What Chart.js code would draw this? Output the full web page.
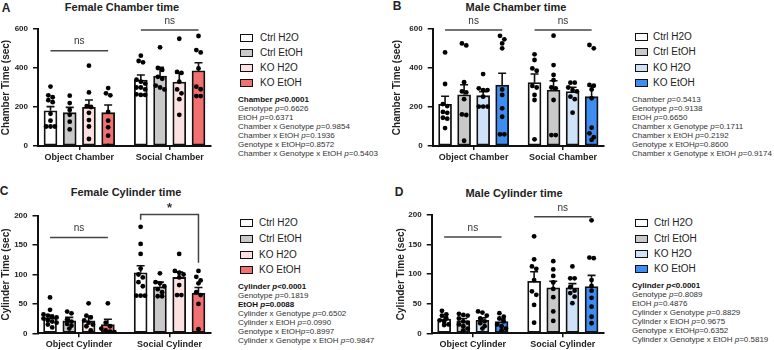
<!DOCTYPE html>
<html>
<head>
<meta charset="utf-8">
<script src="https://cdn.jsdelivr.net/npm/chart.js@4.4.1/dist/chart.umd.min.js"></script>
<style>
  body { margin: 0; background: #fff; }
  #page { position: relative; width: 774px; height: 350px; overflow: hidden; font-family: 'Liberation Sans', Arial, sans-serif; color: #222; }
  .abs { position: absolute; white-space: nowrap; }
  .letter { font-weight: bold; font-size: 12px; line-height: 14px; transform: translate(-50%, -50%); }
  .title { font-weight: bold; font-size: 11px; line-height: 13px; transform: translate(-50%, -50%); }
  .box { position: absolute; width: 13px; height: 8px; border: 1.8px solid #111; box-sizing: border-box; }
  .lab { position: absolute; font-size: 10px; line-height: 12px; white-space: nowrap; }
  .stats { position: absolute; font-size: 8px; line-height: 9px; color: #333; white-space: nowrap; }
  .stats b { color: #111; }
  canvas { position: absolute; }
</style>
</head>
<body>
<div id="page">
  <div class="abs letter" style="left:6px;top:8px">A</div>
  <div class="abs title" style="left:122px;top:7px">Female Chamber time</div>
  <div class="abs letter" style="left:397px;top:6px">B</div>
  <div class="abs title" style="left:516px;top:7px">Male Chamber time</div>
  <div class="abs letter" style="left:4px;top:191px">C</div>
  <div class="abs title" style="left:126px;top:192px">Female Cylinder time</div>
  <div class="abs letter" style="left:399px;top:192px">D</div>
  <div class="abs title" style="left:514px;top:193px">Male Cylinder time</div>

  <canvas id="chartA" width="215" height="170" style="left:0;top:0"></canvas>
  <canvas id="chartB" width="217" height="170" style="left:391px;top:0"></canvas>
  <canvas id="chartC" width="215" height="175" style="left:0;top:175px"></canvas>
  <canvas id="chartD" width="217" height="175" style="left:391px;top:175px"></canvas>
</div>

<script>
// ---- data ----
const seriesNames = ['Ctrl H2O', 'Ctrl EtOH', 'KO H2O', 'KO EtOH'];
const chamberGroups = ['Object Chamber', 'Social Chamber'];
const cylinderGroups = ['Object Cylinder', 'Social Cylinder'];
const chamberTicks = [0, 200, 400, 600];
const cylinderTicks = [0, 50, 100, 150, 200];

const femaleColors = ['#ffffff', '#c9c9c9', '#fde1e1', '#f27070'];
const maleColors = ['#ffffff', '#c9c9c9', '#cfe2f8', '#3d8ef0'];

// bar means / SEM per series: [object, social]
const femChamberMean = [[181, 338], [171, 359], [198, 328], [171, 386]];
const femChamberSem = [[21, 26], [27, 44], [38, 45], [39, 41]];
const maleChamberMean = [[214, 325], [263, 287], [258, 279], [313, 253]];
const maleChamberSem = [[41, 44], [51, 48], [21, 22], [60, 56]];
const femCylinderMean = [[26, 103], [21, 79], [21, 95], [15, 68]];
const femCylinderSem = [[5, 12], [6, 8], [8, 9], [9, 10]];
const maleCylinderMean = [[24, 88], [21, 77], [22, 77], [20, 79]];
const maleCylinderSem = [[4, 16], [4, 11], [4, 7], [4, 19]];

// individual animals, per series
const femChamberObjDots = [
  [305, 260, 250, 235, 225, 165, 130, 100, 100, 100],
  [258, 220, 185, 160, 125, 85],
  [412, 275, 205, 200, 170, 133, 100, 36],
  [297, 270, 260, 175, 130, 96, 53, 0]
];
const femChamberSocDots = [
  [463, 436, 429, 340, 330, 320, 300, 300, 290, 262, 262, 265],
  [506, 400, 390, 355, 345, 310, 300, 290],
  [550, 380, 375, 330, 290, 270, 240, 160],
  [564, 492, 480, 398, 304, 291, 256, 256]
];
const maleChamberObjDots = [
  [480, 318, 215, 205, 175, 170, 145, 140, 92],
  [526, 516, 327, 280, 275, 240, 162, 159, 27],
  [369, 296, 287, 287, 253, 202, 202, 202],
  [565, 547, 526, 501, 290, 262, 193, 150, 60, 60]
];
const maleChamberSocDots = [
  [470, 441, 398, 386, 308, 300, 262, 236, 34],
  [566, 415, 364, 338, 300, 296, 236, 56, 56],
  [325, 325, 300, 287, 280, 253, 240, 171],
  [518, 501, 313, 309, 290, 245, 94, 65, 45, 31]
];
const femCylinderObjDots = [
  [61, 40, 32, 30, 28, 27, 25, 22, 20, 18, 15, 10],
  [37, 34, 24, 20, 16, 13, 8],
  [51, 30, 27, 22, 18, 15, 12, 5],
  [51, 18, 12, 8, 5, 3, 2]
];
const femCylinderSocDots = [
  [181, 152, 135, 110, 100, 95, 87, 80, 64, 64, 64],
  [102, 87, 85, 80, 75, 70, 63, 63],
  [135, 106, 103, 100, 95, 82, 65, 65],
  [106, 96, 90, 85, 70, 65, 50, 7]
];
const maleCylinderObjDots = [
  [38, 32, 30, 25, 22, 20, 15, 14],
  [33, 31, 30, 25, 20, 18, 15, 12, 8, 5],
  [37, 35, 30, 25, 20, 17, 12, 8],
  [34, 28, 25, 20, 15, 12, 8, 5]
];
const maleCylinderSocDots = [
  [164, 125, 113, 109, 90, 71, 65, 48, 18],
  [122, 108, 97, 86, 75, 61, 37, 21],
  [113, 93, 93, 78, 72, 68, 62, 51],
  [191, 128, 127, 90, 80, 72, 60, 45, 28, 17]
];

// significance bars: height per group, label, optional bracket legs [left, right]
const femChamberSigY = [489, 595];
const maleChamberSigY = [595, 595];
const femCylinderSigY = [163, 202];
const maleCylinderSigY = [163, 197];
const femCylinderSigText = ['ns', '*'];
const femCylinderSigLegs = [null, [193, 120]];

// ANOVA results
const chamberTerms = ['Chamber ', 'Genotype ', 'EtOH ', 'Chamber x Genotype ', 'Chamber x EtOH ', 'Genotype x EtOH', 'Chamber x Genotype x EtOH '];
const cylinderTerms = ['Cylinder ', 'Genotype ', 'EtOH ', 'Cylinder x Genotype ', 'Cylinder x EtOH ', 'Genotype x EtOH', 'Cylinder x Genotype x EtOH '];
const femChamberP = ['<0.0001', '=0.6626', '=0.6371', '=0.9854', '=0.1936', '=0.8572', '=0.5403'];
const maleChamberP = ['=0.5413', '=0.9138', '=0.6650', '=0.1711', '=0.2192', '=0.8600', '=0.9174'];
const femCylinderP = ['<0.0001', '=0.1819', '=0.0088', '=0.6502', '=0.0990', '=0.8997', '=0.9847'];
const maleCylinderP = ['<0.0001', '=0.8089', '=0.4876', '=0.8829', '=0.9675', '=0.6352', '=0.5819'];
const femChamberBold = [true, false, false, false, false, false, false];
const maleChamberBold = [false, false, false, false, false, false, false];
const femCylinderBold = [true, false, true, false, false, false, false];
const maleCylinderBold = [true, false, false, false, false, false, false];

Chart.defaults.font.family = "'Liberation Sans', Arial, sans-serif";

const groupCenters = [2.15, 6.85];
const barOffsets = [-1.5, -0.5, 0.5, 1.5];

// error bars + significance lines
function extras(p) {
  return {
    id: 'extras',
    beforeDatasetDraw(chart, args) {
      if (chart.data.datasets[args.index].type !== 'scatter') return;
      const ctx = chart.ctx, ys = chart.scales.y;
      ctx.save();
      ctx.strokeStyle = '#111';
      ctx.lineWidth = 1.6;
      chart.data.datasets.forEach((ds, i) => {
        if (ds.type !== 'bar') return;
        chart.getDatasetMeta(i).data.forEach((bar, j) => {
          const top = ys.getPixelForValue(ds.data[j].y + ds.sem[j]);
          ctx.beginPath();
          ctx.moveTo(bar.x, bar.y);
          ctx.lineTo(bar.x, top);
          ctx.moveTo(bar.x - 4, top);
          ctx.lineTo(bar.x + 4, top);
          ctx.stroke();
        });
      });
      ctx.restore();
    },
    afterDatasetsDraw(chart) {
      const ctx = chart.ctx, xs = chart.scales.x, ys = chart.scales.y;
      ctx.save();
      p.sigY.forEach((v, g) => {
        const x0 = xs.getPixelForValue(groupCenters[g] + barOffsets[0]);
        const x1 = xs.getPixelForValue(groupCenters[g] + barOffsets[3]);
        const py = ys.getPixelForValue(v);
        const legs = p.sigLegs ? p.sigLegs[g] : null;
        ctx.strokeStyle = '#444';
        ctx.lineWidth = 1.5;
        ctx.beginPath();
        if (legs) {
          ctx.moveTo(x0, ys.getPixelForValue(legs[0]));
          ctx.lineTo(x0, py);
          ctx.lineTo(x1, py);
          ctx.lineTo(x1, ys.getPixelForValue(legs[1]));
        } else {
          ctx.moveTo(x0, py);
          ctx.lineTo(x1, py);
        }
        ctx.stroke();
        const txt = p.sigText ? p.sigText[g] : 'ns';
        ctx.fillStyle = '#333';
        ctx.textAlign = 'center';
        ctx.textBaseline = 'middle';
        ctx.font = txt === '*' ? "bold 13px 'Liberation Sans', Arial" : "10px 'Liberation Sans', Arial";
        ctx.fillText(txt, (x0 + x1) / 2, py - (txt === '*' ? 6 : 9));
      });
      ctx.restore();
    }
  };
}

// place the dots of each bar in little rows so they don't sit on top of each other
function spreadDots(chart, groups) {
  const xs = chart.scales.x, ys = chart.scales.y;
  const step = 4.4 / (xs.getPixelForValue(1) - xs.getPixelForValue(0));
  const pts = [];
  groups.forEach(gr => {
    const sorted = gr.values.slice().sort((a, b) => b - a);
    let row = [];
    const flush = () => {
      row.forEach((v, k) => pts.push({ x: gr.x + (k - (row.length - 1) / 2) * step, y: v }));
      row = [];
    };
    sorted.forEach(v => {
      if (row.length && (row.length === 4 || ys.getPixelForValue(v) - ys.getPixelForValue(row[0]) > 4.4)) flush();
      row.push(v);
    });
    flush();
  });
  chart.data.datasets[4].data = pts;
  chart.update('none');
}

function buildPanel(p) {
  const barSets = seriesNames.map((name, s) => ({
    type: 'bar',
    label: name,
    order: 1,
    data: groupCenters.map((c, g) => ({ x: c + barOffsets[s], y: p.mean[s][g] })),
    sem: p.sem[s],
    backgroundColor: p.colors[s],
    borderColor: '#111',
    borderWidth: 1.8,
    borderSkipped: false,
    barThickness: 13,
    grouped: false
  }));
  const dotSet = {
    type: 'scatter', label: 'animals', order: 0, data: [],
    pointRadius: 2.4, pointBackgroundColor: '#000', pointBorderWidth: 0
  };

  const chart = new Chart(document.getElementById(p.id), {
    type: 'bar',
    data: { datasets: [...barSets, dotSet] },
    options: {
      responsive: false,
      animation: false,
      layout: { padding: { left: 0, top: p.area.t, right: p.width - p.area.r, bottom: 0 } },
      plugins: { legend: { display: false }, tooltip: { enabled: false } },
      scales: {
        x: {
          type: 'linear', min: 0, max: 9, offset: false,
          afterFit: s => { s.height = p.height - p.area.b; },
          afterBuildTicks: s => { s.ticks = groupCenters.map(v => ({ value: v })); },
          ticks: {
            autoSkip: false, maxRotation: 0, padding: 2, color: '#222',
            font: { size: 9, weight: 'bold' },
            callback: (v, i) => p.groups[i]
          },
          grid: { drawOnChartArea: false, tickLength: 4, color: '#111', lineWidth: 1.5, offset: false },
          border: { color: '#111', width: 2 }
        },
        y: {
          min: 0, max: p.ticks[p.ticks.length - 1],
          afterFit: s => { s.width = p.area.l; },
          afterBuildTicks: s => { s.ticks = p.ticks.map(v => ({ value: v })); },
          ticks: { padding: 5, color: '#222', font: { size: 8, weight: 'bold' } },
          grid: { drawOnChartArea: false, tickLength: 5, color: '#111', lineWidth: 1.5 },
          border: { color: '#111', width: 2 },
          title: {
            display: true, text: p.axisTitle, color: '#222',
            font: { size: 10, weight: 'bold' },
            padding: { top: p.titlePad, bottom: 0 }
          }
        }
      }
    },
    plugins: [extras(p)]
  });

  const groups = [];
  seriesNames.forEach((n, s) => {
    groups.push({ x: groupCenters[0] + barOffsets[s], values: p.objDots[s] });
    groups.push({ x: groupCenters[1] + barOffsets[s], values: p.socDots[s] });
  });
  spreadDots(chart, groups);

  // legend + stats text
  const page = document.getElementById('page');
  seriesNames.forEach((name, s) => {
    const box = document.createElement('div');
    box.className = 'box';
    box.style.left = p.legend.x + 'px';
    box.style.top = (p.legend.y[s] - 4) + 'px';
    box.style.background = p.colors[s];
    page.appendChild(box);
    const lab = document.createElement('div');
    lab.className = 'lab';
    lab.style.left = p.legend.labelX + 'px';
    lab.style.top = (p.legend.y[s] - 6) + 'px';
    lab.textContent = name;
    page.appendChild(lab);
  });
  const st = document.createElement('div');
  st.className = 'stats';
  st.style.left = p.stats.x + 'px';
  st.style.top = (p.stats.y - 4.5) + 'px';
  st.innerHTML = p.terms.map((t, i) => {
    const line = t + '<i>p</i>' + p.pvals[i].replace('<', '&lt;');
    return '<div>' + (p.bold[i] ? '<b>' + line + '</b>' : line) + '</div>';
  }).join('');
  page.appendChild(st);
}

// A - Female Chamber time
buildPanel({
  id: 'chartA', width: 215, height: 170, area: { l: 38, t: 29, r: 212.7, b: 146 }, titlePad: 0,
  groups: chamberGroups, ticks: chamberTicks, axisTitle: 'Chamber Time (sec)', colors: femaleColors,
  mean: femChamberMean, sem: femChamberSem, objDots: femChamberObjDots, socDots: femChamberSocDots,
  sigY: femChamberSigY,
  legend: { x: 240, labelX: 260, y: [37.5, 52.8, 68, 83.3] },
  stats: { x: 238, y: 99 }, terms: chamberTerms, pvals: femChamberP, bold: femChamberBold
});

// B - Male Chamber time
buildPanel({
  id: 'chartB', width: 217, height: 170, area: { l: 41.7, t: 29, r: 215, b: 146 }, titlePad: 0.5,
  groups: chamberGroups, ticks: chamberTicks, axisTitle: 'Chamber Time (sec)', colors: maleColors,
  mean: maleChamberMean, sem: maleChamberSem, objDots: maleChamberObjDots, socDots: maleChamberSocDots,
  sigY: maleChamberSigY,
  legend: { x: 635, labelX: 653, y: [37, 52, 68, 83] },
  stats: { x: 632, y: 99 }, terms: chamberTerms, pvals: maleChamberP, bold: maleChamberBold
});

// C - Female Cylinder time
buildPanel({
  id: 'chartC', width: 215, height: 175, area: { l: 37.5, t: 40.7, r: 212.5, b: 158.3 }, titlePad: 0,
  groups: cylinderGroups, ticks: cylinderTicks, axisTitle: 'Cylinder Time (sec)', colors: femaleColors,
  mean: femCylinderMean, sem: femCylinderSem, objDots: femCylinderObjDots, socDots: femCylinderSocDots,
  sigY: femCylinderSigY, sigText: femCylinderSigText, sigLegs: femCylinderSigLegs,
  legend: { x: 240, labelX: 259, y: [223.3, 239.3, 255, 270] },
  stats: { x: 238, y: 286 }, terms: cylinderTerms, pvals: femCylinderP, bold: femCylinderBold
});

// D - Male Cylinder time
buildPanel({
  id: 'chartD', width: 217, height: 175, area: { l: 40.7, t: 40, r: 214, b: 158.3 }, titlePad: 4,
  groups: cylinderGroups, ticks: cylinderTicks, axisTitle: 'Cylinder Time (sec)', colors: maleColors,
  mean: maleCylinderMean, sem: maleCylinderSem, objDots: maleCylinderObjDots, socDots: maleCylinderSocDots,
  sigY: maleCylinderSigY,
  legend: { x: 635, labelX: 654, y: [222.7, 239, 254.3, 269.3] },
  stats: { x: 632, y: 285 }, terms: cylinderTerms, pvals: maleCylinderP, bold: maleCylinderBold
});
</script>
</body>
</html>
